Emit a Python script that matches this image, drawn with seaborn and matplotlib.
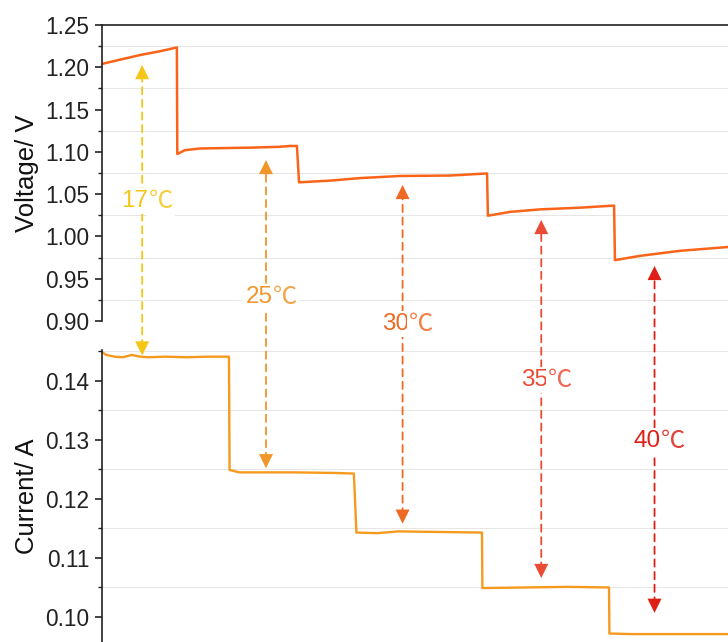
import seaborn as sns
import numpy as np
import matplotlib.pyplot as plt
from matplotlib.ticker import MultipleLocator, FormatStrFormatter
from matplotlib.transforms import blended_transform_factory

# ---------------- data (time in min) ----------------
volt_time = [0, 8.5, 18, 27.4, 35.4, 35.6, 39.2, 46.3, 69.9, 84, 88.8, 92.1,
             93.1, 107.7, 121.9, 140.8, 164.4, 181.9, 182.3, 192.7, 206.9,
             225.8, 241.9, 242.3, 254.1, 273, 295.7]
volt_value = [1.204, 1.209, 1.2145, 1.219, 1.2235, 1.0975, 1.102, 1.104, 1.105,
              1.106, 1.107, 1.107, 1.064, 1.066, 1.069, 1.0715, 1.072, 1.0745,
              1.0245, 1.029, 1.032, 1.034, 1.0365, 0.972, 0.977, 0.983, 0.9875]

curr_time = [0, 2, 6, 10, 14, 18, 22, 30, 40, 50, 60, 60.3, 65, 90, 110, 119,
             120.2, 130, 140, 160, 179.5, 179.7, 200, 220, 239.5, 239.7, 250,
             270, 295.7]
curr_value = [0.1449, 0.1444, 0.1441, 0.1440, 0.1444, 0.1441, 0.1440, 0.1441,
              0.1440, 0.1441, 0.1441, 0.1249, 0.1245, 0.1245, 0.1244, 0.1243,
              0.1143, 0.1142, 0.1145, 0.1144, 0.1143, 0.1049, 0.1050, 0.1051,
              0.1050, 0.0972, 0.0971, 0.0971, 0.0971]

temp_numbers = ["17", "25", "30", "35", "40"]
arrow_time = [19, 77.5, 142, 207.5, 261]
arrow_volt = [1.2027, 1.0904, 1.0609, 1.0195, 0.9651]
arrow_curr = [0.1443, 0.1252, 0.1158, 0.1066, 0.1007]
label_yfig = [0.687, 0.537, 0.495, 0.408, 0.313]
temp_colors = ["#F5C518", "#F0962A", "#EE6A22", "#EB4B35", "#DD2015"]

sns.set_theme(style="white")
plt.rcParams['font.family'] = ['Liberation Sans', 'Noto Sans CJK SC', 'DejaVu Sans']

fig = plt.figure(figsize=(7.28, 6.42), dpi=100)
ax_c = fig.add_axes([0.140, 0.000, 0.860, 0.455])
ax_v = fig.add_axes([0.140, 0.500, 0.860, 0.461])
ax_v.set_zorder(3)
ax_v.patch.set_alpha(0)
ax_c.set_zorder(1)

sns.lineplot(x=volt_time, y=volt_value, estimator=None, sort=False,
             color="#FA6419", linewidth=1.8, ax=ax_v)
sns.lineplot(x=curr_time, y=curr_value, estimator=None, sort=False,
             color="#F59A1E", linewidth=1.7, ax=ax_c)

ax_v.set_ylim(0.90, 1.25)
ax_c.set_ylim(0.09576, 0.14525)
for ax in (ax_v, ax_c):
    ax.set_xlim(0, 295.7)
    ax.set_xticks([])
    ax.spines['right'].set_visible(False)
    ax.spines['bottom'].set_visible(False)
    ax.spines['left'].set_color("#222222")
    ax.spines['left'].set_linewidth(1.2)
    ax.tick_params(axis='y', which='major', direction='out', length=5,
                   width=1.2, color="#222222", labelsize=16.3, pad=4,
                   left=True, labelcolor="#222222")
    ax.tick_params(axis='y', which='minor', direction='out', length=3,
                   width=1.0, color="#222222", left=True)
    ax.grid(False)
    ax.grid(which='minor', axis='y', color="#E6E6E6", linewidth=0.7)
    ax.set_xlabel("")

ax_c.spines['top'].set_visible(False)
ax_v.spines['top'].set_color("#222222")
ax_v.spines['top'].set_linewidth(1.2)

ax_v.yaxis.set_major_locator(MultipleLocator(0.05))
ax_v.yaxis.set_minor_locator(MultipleLocator(0.025))
ax_v.yaxis.set_major_formatter(FormatStrFormatter('%.2f'))
ax_c.yaxis.set_major_locator(MultipleLocator(0.01))
ax_c.yaxis.set_minor_locator(MultipleLocator(0.005))
ax_c.yaxis.set_major_formatter(FormatStrFormatter('%.2f'))

ax_v.set_ylabel("Voltage/ V", fontsize=18.5, color="#111111")
ax_c.set_ylabel("Current/ A", fontsize=18.5, color="#111111")
ax_v.yaxis.set_label_coords(-0.10, 0.5)
ax_c.yaxis.set_label_coords(-0.10, 0.5)

# temperature arrows between the two panels
tr = blended_transform_factory(ax_v.transData, fig.transFigure)
head = "-|>,head_length=0.85,head_width=0.42"
for num, t, v, c, yf, col in zip(temp_numbers, arrow_time, arrow_volt,
                                 arrow_curr, label_yfig, temp_colors):
    # dashed shaft
    ax_v.annotate("", xy=(t, v), xycoords=ax_v.transData,
                  xytext=(t, c), textcoords=ax_c.transData,
                  arrowprops=dict(arrowstyle="-", color=col, linewidth=1.3,
                                  linestyle=(0, (4, 3)), shrinkA=6, shrinkB=6),
                  annotation_clip=False)
    # solid heads
    ax_v.annotate("", xy=(t, v), xytext=(0, -10), textcoords='offset points',
                  arrowprops=dict(arrowstyle=head, color=col, linewidth=0,
                                  shrinkA=0, shrinkB=0),
                  annotation_clip=False)
    ax_v.annotate("", xy=(t, c), xycoords=ax_c.transData,
                  xytext=(0, 10), textcoords='offset points',
                  arrowprops=dict(arrowstyle=head, color=col, linewidth=0,
                                  shrinkA=0, shrinkB=0),
                  annotation_clip=False)
    ax_v.text(t + 3, yf, num, transform=tr, color=col, fontsize=17.5,
              ha='right', va='center', clip_on=False,
              bbox=dict(facecolor='white', edgecolor='none', pad=1.5))
    ax_v.text(t + 3.2, yf, "℃", transform=tr, color=col, fontsize=17.5,
              family=['Noto Sans CJK SC', 'DejaVu Sans'], alpha=0.85,
              ha='left', va='center', clip_on=False,
              bbox=dict(facecolor='white', edgecolor='none', pad=1.5))

fig.savefig("out.png", dpi=100)
